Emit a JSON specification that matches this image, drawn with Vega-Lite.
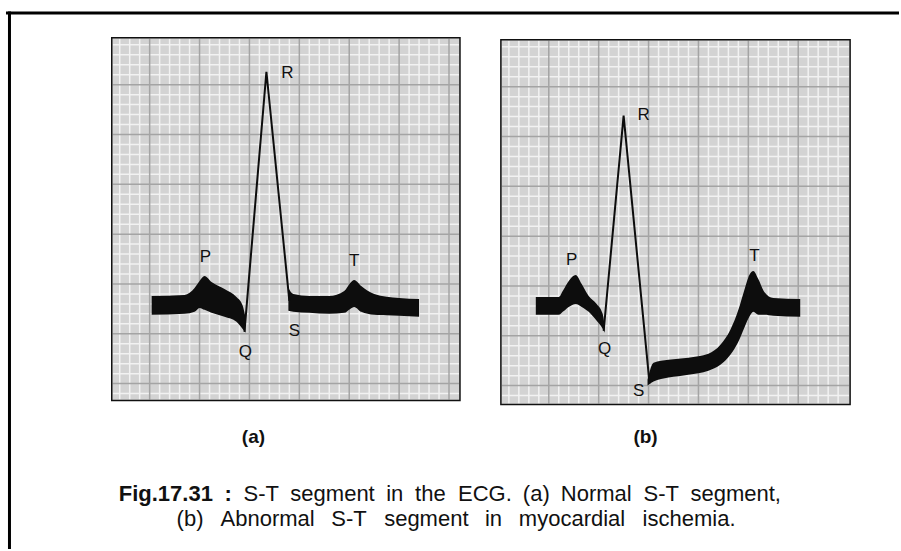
{
  "$schema": "https://vega.github.io/schema/vega-lite/v6.json",
  "width": 901,
  "height": 551,
  "autosize": {"type": "fit", "contains": "padding"},
  "padding": 0,
  "background": "white",
  "config": {"view": {"stroke": null}},
  "datasets": {
    "frame": [
      {"x": 6, "x2": 901, "y": 13, "y2": 13},
      {"x": 9.5, "x2": 9.5, "y": 11.5, "y2": 551}
    ],
    "panels": [
      {"p": "a", "x": 112, "x2": 461, "y": 38, "y2": 402},
      {"p": "b", "x": 502, "x2": 852, "y": 40, "y2": 406}
    ],
    "vminor": [
      {"p": "a", "x": 120}, {"p": "a", "x": 130}, {"p": "a", "x": 140}, {"p": "a", "x": 160}, {"p": "a", "x": 170}, {"p": "a", "x": 180}, {"p": "a", "x": 190},
      {"p": "a", "x": 210}, {"p": "a", "x": 220}, {"p": "a", "x": 230}, {"p": "a", "x": 240}, {"p": "a", "x": 260}, {"p": "a", "x": 270}, {"p": "a", "x": 280}, {"p": "a", "x": 290},
      {"p": "a", "x": 310}, {"p": "a", "x": 320}, {"p": "a", "x": 330}, {"p": "a", "x": 340}, {"p": "a", "x": 360}, {"p": "a", "x": 370}, {"p": "a", "x": 380}, {"p": "a", "x": 390},
      {"p": "a", "x": 410}, {"p": "a", "x": 420}, {"p": "a", "x": 430}, {"p": "a", "x": 440},
      {"p": "b", "x": 510}, {"p": "b", "x": 520}, {"p": "b", "x": 530}, {"p": "b", "x": 540}, {"p": "b", "x": 560}, {"p": "b", "x": 570}, {"p": "b", "x": 580}, {"p": "b", "x": 590},
      {"p": "b", "x": 610}, {"p": "b", "x": 620}, {"p": "b", "x": 630}, {"p": "b", "x": 640}, {"p": "b", "x": 660}, {"p": "b", "x": 670}, {"p": "b", "x": 680}, {"p": "b", "x": 690},
      {"p": "b", "x": 710}, {"p": "b", "x": 720}, {"p": "b", "x": 730}, {"p": "b", "x": 740}, {"p": "b", "x": 760}, {"p": "b", "x": 770}, {"p": "b", "x": 780}, {"p": "b", "x": 790},
      {"p": "b", "x": 810}, {"p": "b", "x": 820}, {"p": "b", "x": 830}, {"p": "b", "x": 840}
    ],
    "vmajor": [
      {"p": "a", "x": 150}, {"p": "a", "x": 200}, {"p": "a", "x": 250}, {"p": "a", "x": 300}, {"p": "a", "x": 350}, {"p": "a", "x": 400}, {"p": "a", "x": 450},
      {"p": "b", "x": 550}, {"p": "b", "x": 600}, {"p": "b", "x": 650}, {"p": "b", "x": 700}, {"p": "b", "x": 750}, {"p": "b", "x": 800}
    ],
    "hminor": [
      {"p": "a", "y": 45}, {"p": "a", "y": 55}, {"p": "a", "y": 65}, {"p": "a", "y": 75}, {"p": "a", "y": 95}, {"p": "a", "y": 105}, {"p": "a", "y": 115}, {"p": "a", "y": 125},
      {"p": "a", "y": 145}, {"p": "a", "y": 155}, {"p": "a", "y": 165}, {"p": "a", "y": 175}, {"p": "a", "y": 195}, {"p": "a", "y": 205}, {"p": "a", "y": 215}, {"p": "a", "y": 225},
      {"p": "a", "y": 245}, {"p": "a", "y": 255}, {"p": "a", "y": 265}, {"p": "a", "y": 275}, {"p": "a", "y": 295}, {"p": "a", "y": 305}, {"p": "a", "y": 315}, {"p": "a", "y": 325},
      {"p": "a", "y": 345}, {"p": "a", "y": 355}, {"p": "a", "y": 365}, {"p": "a", "y": 375}, {"p": "a", "y": 395},
      {"p": "b", "y": 47}, {"p": "b", "y": 57}, {"p": "b", "y": 67}, {"p": "b", "y": 77}, {"p": "b", "y": 97}, {"p": "b", "y": 107}, {"p": "b", "y": 117}, {"p": "b", "y": 127},
      {"p": "b", "y": 147}, {"p": "b", "y": 157}, {"p": "b", "y": 167}, {"p": "b", "y": 177}, {"p": "b", "y": 197}, {"p": "b", "y": 207}, {"p": "b", "y": 217}, {"p": "b", "y": 227},
      {"p": "b", "y": 247}, {"p": "b", "y": 257}, {"p": "b", "y": 267}, {"p": "b", "y": 277}, {"p": "b", "y": 297}, {"p": "b", "y": 307}, {"p": "b", "y": 317}, {"p": "b", "y": 327},
      {"p": "b", "y": 347}, {"p": "b", "y": 357}, {"p": "b", "y": 367}, {"p": "b", "y": 377}, {"p": "b", "y": 397}
    ],
    "hmajor": [
      {"p": "a", "y": 85}, {"p": "a", "y": 135}, {"p": "a", "y": 185}, {"p": "a", "y": 235}, {"p": "a", "y": 285}, {"p": "a", "y": 335}, {"p": "a", "y": 385},
      {"p": "b", "y": 87}, {"p": "b", "y": 137}, {"p": "b", "y": 187}, {"p": "b", "y": 237}, {"p": "b", "y": 287}, {"p": "b", "y": 337}, {"p": "b", "y": 387}
    ],
    "bands": [
      {"s": "a1", "x": 152, "top": 297, "bot": 316},
      {"s": "a1", "x": 185, "top": 296, "bot": 315},
      {"s": "a1", "x": 195, "top": 289, "bot": 313},
      {"s": "a1", "x": 200, "top": 282, "bot": 309},
      {"s": "a1", "x": 205, "top": 277, "bot": 311},
      {"s": "a1", "x": 212, "top": 283, "bot": 314},
      {"s": "a1", "x": 225, "top": 290, "bot": 318},
      {"s": "a1", "x": 237, "top": 298, "bot": 323},
      {"s": "a1", "x": 243, "top": 306, "bot": 330},
      {"s": "a1", "x": 246, "top": 318, "bot": 334},
      {"s": "a2", "x": 289, "top": 289, "bot": 312},
      {"s": "a2", "x": 294, "top": 295, "bot": 313},
      {"s": "a2", "x": 310, "top": 297, "bot": 314},
      {"s": "a2", "x": 330, "top": 297, "bot": 315},
      {"s": "a2", "x": 345, "top": 292, "bot": 314},
      {"s": "a2", "x": 351, "top": 284, "bot": 310},
      {"s": "a2", "x": 355, "top": 281, "bot": 308},
      {"s": "a2", "x": 362, "top": 287, "bot": 313},
      {"s": "a2", "x": 375, "top": 295, "bot": 316},
      {"s": "a2", "x": 400, "top": 299, "bot": 317},
      {"s": "a2", "x": 420, "top": 300, "bot": 318},
      {"s": "b1", "x": 537, "top": 298, "bot": 316},
      {"s": "b1", "x": 560, "top": 298, "bot": 316},
      {"s": "b1", "x": 564, "top": 292, "bot": 313},
      {"s": "b1", "x": 570, "top": 282, "bot": 308},
      {"s": "b1", "x": 577, "top": 276, "bot": 305},
      {"s": "b1", "x": 583, "top": 285, "bot": 308},
      {"s": "b1", "x": 590, "top": 297, "bot": 313},
      {"s": "b1", "x": 598, "top": 305, "bot": 322},
      {"s": "b1", "x": 604, "top": 315, "bot": 330},
      {"s": "b1", "x": 606, "top": 327, "bot": 334},
      {"s": "b2", "x": 649, "top": 381, "bot": 387},
      {"s": "b2", "x": 655, "top": 364, "bot": 383},
      {"s": "b2", "x": 670, "top": 361, "bot": 379},
      {"s": "b2", "x": 690, "top": 359, "bot": 376},
      {"s": "b2", "x": 710, "top": 355, "bot": 372},
      {"s": "b2", "x": 722, "top": 346, "bot": 366},
      {"s": "b2", "x": 732, "top": 331, "bot": 356},
      {"s": "b2", "x": 740, "top": 311, "bot": 343},
      {"s": "b2", "x": 746, "top": 291, "bot": 329},
      {"s": "b2", "x": 751, "top": 276, "bot": 318},
      {"s": "b2", "x": 755, "top": 272, "bot": 313},
      {"s": "b2", "x": 760, "top": 280, "bot": 316},
      {"s": "b2", "x": 766, "top": 293, "bot": 316},
      {"s": "b2", "x": 775, "top": 299, "bot": 317},
      {"s": "b2", "x": 802, "top": 300, "bot": 318}
    ],
    "spikes": [
      {"s": "a", "i": 1, "x": 245, "y": 333},
      {"s": "a", "i": 2, "x": 267, "y": 72},
      {"s": "a", "i": 3, "x": 290, "y": 302},
      {"s": "b", "i": 1, "x": 605, "y": 332},
      {"s": "b", "i": 2, "x": 625, "y": 116},
      {"s": "b", "i": 3, "x": 651, "y": 385}
    ],
    "labels": [
      {"t": "R", "x": 288, "y": 73},
      {"t": "P", "x": 206, "y": 258},
      {"t": "T", "x": 355, "y": 262},
      {"t": "S", "x": 295, "y": 332},
      {"t": "Q", "x": 246, "y": 353},
      {"t": "R", "x": 645, "y": 115},
      {"t": "P", "x": 573, "y": 261},
      {"t": "Q", "x": 606, "y": 350},
      {"t": "S", "x": 640, "y": 392},
      {"t": "T", "x": 756, "y": 257}
    ],
    "sub": [
      {"t": "(a)", "x": 254, "y": 439},
      {"t": "(b)", "x": 647, "y": 439}
    ],
    "caption": [
      {"w": "b", "t": "Fig.17.31", "x": 119, "y": 496},
      {"w": "b", "t": ":", "x": 225, "y": 496},
      {"w": "n", "t": "S-T", "x": 244, "y": 496},
      {"w": "n", "t": "segment", "x": 291, "y": 496},
      {"w": "n", "t": "in", "x": 387, "y": 496},
      {"w": "n", "t": "the", "x": 416, "y": 496},
      {"w": "n", "t": "ECG.", "x": 459, "y": 496},
      {"w": "n", "t": "(a)", "x": 524, "y": 496},
      {"w": "n", "t": "Normal", "x": 562, "y": 496},
      {"w": "n", "t": "S-T", "x": 645, "y": 496},
      {"w": "n", "t": "segment,", "x": 692, "y": 496},
      {"w": "n", "t": "(b)", "x": 177, "y": 521},
      {"w": "n", "t": "Abnormal", "x": 221, "y": 521},
      {"w": "n", "t": "S-T", "x": 332, "y": 521},
      {"w": "n", "t": "segment", "x": 385, "y": 521},
      {"w": "n", "t": "in", "x": 486, "y": 521},
      {"w": "n", "t": "myocardial", "x": 520, "y": 521},
      {"w": "n", "t": "ischemia.", "x": 644, "y": 521}
    ]
  },
  "layer": [
    {
      "data": {"name": "panels"},
      "mark": {"type": "rect", "fill": "#d3d3d3"},
      "encoding": {
        "x": {"field": "x", "type": "quantitative", "scale": {"domain": [0, 901], "nice": false, "zero": false}, "axis": null},
        "x2": {"field": "x2"},
        "y": {"field": "y", "type": "quantitative", "scale": {"domain": [0, 551], "nice": false, "zero": false, "reverse": true}, "axis": null},
        "y2": {"field": "y2"}
      }
    },
    {
      "data": {"name": "vminor"},
      "transform": [{"filter": "datum.p == 'a'"}],
      "mark": {"type": "rule", "stroke": "#f2f2f2", "strokeWidth": 1.5},
      "encoding": {"x": {"field": "x", "type": "quantitative"}, "y": {"datum": 39}, "y2": {"datum": 401}}
    },
    {
      "data": {"name": "vminor"},
      "transform": [{"filter": "datum.p == 'b'"}],
      "mark": {"type": "rule", "stroke": "#f2f2f2", "strokeWidth": 1.5},
      "encoding": {"x": {"field": "x", "type": "quantitative"}, "y": {"datum": 41}, "y2": {"datum": 405}}
    },
    {
      "data": {"name": "hminor"},
      "transform": [{"filter": "datum.p == 'a'"}],
      "mark": {"type": "rule", "stroke": "#f2f2f2", "strokeWidth": 1.5},
      "encoding": {"y": {"field": "y", "type": "quantitative"}, "x": {"datum": 113}, "x2": {"datum": 460}}
    },
    {
      "data": {"name": "hminor"},
      "transform": [{"filter": "datum.p == 'b'"}],
      "mark": {"type": "rule", "stroke": "#f2f2f2", "strokeWidth": 1.5},
      "encoding": {"y": {"field": "y", "type": "quantitative"}, "x": {"datum": 503}, "x2": {"datum": 851}}
    },
    {
      "data": {"name": "vmajor"},
      "transform": [{"filter": "datum.p == 'a'"}],
      "mark": {"type": "rule", "stroke": "#a4a4a4", "strokeWidth": 1.5},
      "encoding": {"x": {"field": "x", "type": "quantitative"}, "y": {"datum": 39}, "y2": {"datum": 401}}
    },
    {
      "data": {"name": "vmajor"},
      "transform": [{"filter": "datum.p == 'b'"}],
      "mark": {"type": "rule", "stroke": "#a4a4a4", "strokeWidth": 1.5},
      "encoding": {"x": {"field": "x", "type": "quantitative"}, "y": {"datum": 41}, "y2": {"datum": 405}}
    },
    {
      "data": {"name": "hmajor"},
      "transform": [{"filter": "datum.p == 'a'"}],
      "mark": {"type": "rule", "stroke": "#a4a4a4", "strokeWidth": 1.5},
      "encoding": {"y": {"field": "y", "type": "quantitative"}, "x": {"datum": 113}, "x2": {"datum": 460}}
    },
    {
      "data": {"name": "hmajor"},
      "transform": [{"filter": "datum.p == 'b'"}],
      "mark": {"type": "rule", "stroke": "#a4a4a4", "strokeWidth": 1.5},
      "encoding": {"y": {"field": "y", "type": "quantitative"}, "x": {"datum": 503}, "x2": {"datum": 851}}
    },
    {
      "data": {"name": "panels"},
      "mark": {"type": "rect", "fill": null, "stroke": "#111111", "strokeWidth": 1.5},
      "encoding": {
        "x": {"field": "x", "type": "quantitative"},
        "x2": {"field": "x2"},
        "y": {"field": "y", "type": "quantitative"},
        "y2": {"field": "y2"}
      }
    },
    {
      "data": {"name": "frame"},
      "mark": {"type": "rule", "stroke": "#000000", "strokeWidth": 3},
      "encoding": {
        "x": {"field": "x", "type": "quantitative"},
        "x2": {"field": "x2"},
        "y": {"field": "y", "type": "quantitative"},
        "y2": {"field": "y2"}
      }
    },
    {
      "data": {"name": "bands"},
      "mark": {"type": "area", "color": "#0d0d0d", "interpolate": "monotone", "opacity": 1},
      "encoding": {
        "x": {"field": "x", "type": "quantitative"},
        "y": {"field": "top", "type": "quantitative", "stack": null},
        "y2": {"field": "bot"},
        "detail": {"field": "s"}
      }
    },
    {
      "data": {"name": "spikes"},
      "mark": {"type": "line", "color": "#0d0d0d", "strokeWidth": 2},
      "encoding": {
        "x": {"field": "x", "type": "quantitative"},
        "y": {"field": "y", "type": "quantitative"},
        "detail": {"field": "s"},
        "order": {"field": "i", "type": "quantitative"}
      }
    },
    {
      "data": {"name": "labels"},
      "mark": {"type": "text", "font": "Liberation Sans", "fontSize": 17, "color": "#111111", "align": "center", "baseline": "middle"},
      "encoding": {
        "x": {"field": "x", "type": "quantitative"},
        "y": {"field": "y", "type": "quantitative"},
        "text": {"field": "t"}
      }
    },
    {
      "data": {"name": "sub"},
      "mark": {"type": "text", "font": "Liberation Sans", "fontSize": 19, "fontWeight": "bold", "color": "#111111", "align": "center", "baseline": "middle"},
      "encoding": {
        "x": {"field": "x", "type": "quantitative"},
        "y": {"field": "y", "type": "quantitative"},
        "text": {"field": "t"}
      }
    },
    {
      "data": {"name": "caption"},
      "transform": [{"filter": "datum.w == 'b'"}],
      "mark": {"type": "text", "font": "Liberation Sans", "fontSize": 22, "fontWeight": "bold", "color": "#111111", "align": "left", "baseline": "middle"},
      "encoding": {
        "x": {"field": "x", "type": "quantitative"},
        "y": {"field": "y", "type": "quantitative"},
        "text": {"field": "t"}
      }
    },
    {
      "data": {"name": "caption"},
      "transform": [{"filter": "datum.w == 'n'"}],
      "mark": {"type": "text", "font": "Liberation Sans", "fontSize": 22, "color": "#111111", "align": "left", "baseline": "middle"},
      "encoding": {
        "x": {"field": "x", "type": "quantitative"},
        "y": {"field": "y", "type": "quantitative"},
        "text": {"field": "t"}
      }
    }
  ]
}
